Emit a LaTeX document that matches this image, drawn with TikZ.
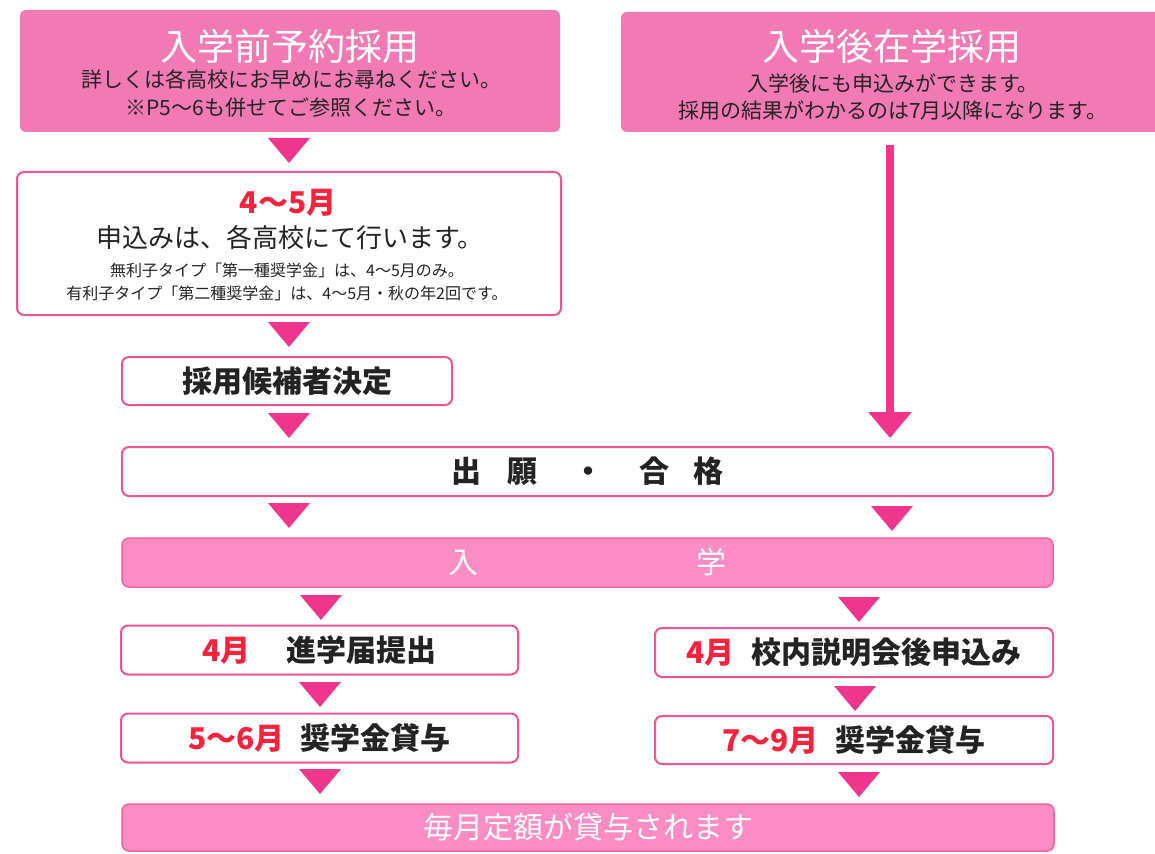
\documentclass[tikz,border=0pt]{standalone}
\usepackage{fontspec}
\setmainfont{Noto Sans CJK JP}
\usetikzlibrary{arrows.meta}
\definecolor{headpink}{RGB}{242,122,180}
\definecolor{barpink}{RGB}{252,140,196}
\definecolor{barline}{RGB}{240,100,160}
\definecolor{linepink}{RGB}{236,84,146}
\definecolor{tripink}{RGB}{238,55,140}
\definecolor{monthred}{RGB}{245,35,60}
\definecolor{ink}{RGB}{35,35,35}
\newcommand{\fsz}[2]{\fontsize{#1}{#2}\selectfont}
\newcommand{\downtri}[2]{\fill[tripink] (#1-21,#2) -- (#1+21,#2) -- (#1,#2+25) -- cycle;}
\newcommand{\mon}[1]{\textcolor{monthred}{#1}}
\tikzset{
  headbox/.style={fill=headpink, rounded corners=6pt, inner sep=0pt},
  stepbox/.style={draw=linepink, line width=2pt, fill=white, rounded corners=7pt,
    inner sep=0pt, text=ink, font=\bfseries\fsz{30}{36}},
  barbox/.style={draw=barline, line width=1.5pt, fill=barpink, rounded corners=7pt,
    inner sep=0pt, text=white, font=\fsz{30}{36}},
  bigarrow/.style={tripink, line width=8pt, -{Triangle[width=42pt,length=26pt]}}
}
\begin{document}
\begin{tikzpicture}[x=1pt,y=-1pt]
	\useasboundingbox (0,0) rectangle (1155,853);
	
	\node[headbox, minimum width=540pt, minimum height=122pt] (pre) at (290,71) {};
	\node[text=white, font=\fsz{37}{40}] (pretitle) at (290,46) {入学前予約採用};
	\node[text=ink, font=\fsz{21}{28}, align=center] (prenote) at (291,94) {詳しくは各高校にお早めにお尋ねください。\\※P5〜6も併せてご参照ください。};
	
	\node[headbox, minimum width=544pt, minimum height=120pt] (post) at (893,72) {};
	\node[text=white, font=\fsz{37}{40}] (posttitle) at (892,46) {入学後在学採用};
	\node[text=ink, font=\fsz{21}{27}, align=center] (postnote) at (893,97) {入学後にも申込みができます。\\採用の結果がわかるのは7月以降になります。};
	
	\node[stepbox, minimum width=544pt, minimum height=143pt] (apply) at (289,243.5) {};
	\node[text=monthred, font=\bfseries\fsz{30}{34}] (applymonth) at (288,203) {4〜5月};
	\node[text=ink, font=\fsz{26}{30}] (applytext) at (290,238) {申込みは、各高校にて行います。};
	\node[text=ink, font=\fsz{16}{23}, align=center] (applynote) at (287,282) {無利子タイプ「第一種奨学金」は、4〜5月のみ。\\有利子タイプ「第二種奨学金」は、4〜5月・秋の年2回です。};
	
	\node[stepbox, minimum width=330pt, minimum height=48pt] (cand) at (287,381) {採用候補者決定};
	\node[stepbox, minimum width=931pt, minimum height=49pt] (exam) at (587.5,471.5) {出\hspace{26pt}願\hspace{36pt}・\hspace{36pt}合\hspace{24pt}格};
	\node[barbox, minimum width=931pt, minimum height=49pt] (enter) at (587.5,562.5) {入\hspace{218pt}学};
	
	\node[stepbox, minimum width=397pt, minimum height=49pt] (notice) at (319.5,650) {\mon{4月}\hspace{36pt}進学届提出};
	\node[stepbox, minimum width=398pt, minimum height=49pt] (session) at (854,652.5) {\mon{4月}\hspace{17pt}校内説明会後申込み};
	\node[stepbox, minimum width=397pt, minimum height=49pt] (loanA) at (319.5,738) {\mon{5〜6月}\hspace{16pt}奨学金貸与};
	\node[stepbox, minimum width=398pt, minimum height=48pt] (loanB) at (854,740) {\mon{7〜9月}\hspace{17pt}奨学金貸与};
	\node[barbox, minimum width=932pt, minimum height=47pt] (monthly) at (588,827.5) {毎月定額が貸与されます};
	
	\coordinate (bx) at (890,0);
	\draw[bigarrow, shorten <=13pt, shorten >=8pt] (post.south -| bx) -- (exam.north -| bx);
	
	\downtri{289}{138}
	\downtri{289}{322}
	\downtri{289}{413}
	\downtri{289}{503}
	\downtri{892}{506}
	\downtri{321}{595}
	\downtri{859}{597}
	\downtri{320}{682}
	\downtri{855}{686}
	\downtri{320}{769}
	\downtri{859}{772}
	
\end{tikzpicture}
\end{document}
